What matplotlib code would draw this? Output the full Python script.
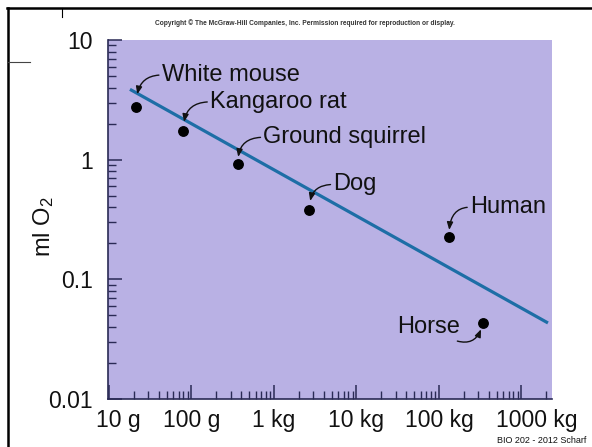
import matplotlib
matplotlib.use("Agg")
import matplotlib.pyplot as plt
from matplotlib.lines import Line2D
from matplotlib.ticker import FixedLocator, LogLocator, NullFormatter, FixedFormatter
from matplotlib.transforms import ScaledTranslation

plt.rcParams['font.family'] = ['Liberation Sans', 'DejaVu Sans']
plt.rcParams['mathtext.fontset'] = 'custom'
plt.rcParams['mathtext.rm'] = 'Liberation Sans'
plt.rcParams['mathtext.default'] = 'rm'

# ---- data (body mass in grams, O2 consumption) ----
animals = ["White mouse", "Kangaroo rat", "Ground squirrel", "Dog", "Human", "Horse"]
mass_g = [21.3, 79.8, 364, 2685, 132400, 345000]
o2_ml = [2.77, 1.74, 0.915, 0.380, 0.2275, 0.0434]

fit_mass_g = [18.0, 2.10e6]
fit_o2_ml = [3.87, 0.0432]

x_tick_values = [10, 100, 1e3, 1e4, 1e5, 1e6]
x_tick_labels = ["10 g", "100 g", "1 kg", "10 kg", "100 kg", "1000 kg"]
y_tick_values = [0.01, 0.1, 1, 10]
y_tick_labels = ["0.01", "0.1", "1", "10"]

# ---- layout / styling (pixels) ----
label_offsets = [(25.7, 25.7), (26.7, 23), (25.6, 21), (24, 19.5), (21, 23.4), (-23.3, -10.6)]
label_ha = ["left", "left", "left", "left", "left", "right"]
arrow_shrink = [9.0, 6.5, 5.3, 6.5, 4.8, 5.0]

W, H = 592, 447
fig = plt.figure(figsize=(W / 100, H / 100), dpi=100)
fig.patch.set_facecolor("white")
ax = fig.add_axes([108 / W, 48 / H, 444 / W, 359 / H])
ax.set_facecolor("#b9b1e4")

ax.set_xscale("log")
ax.set_yscale("log")
ax.set_xlim(9.75, 2.35e6)
ax.set_ylim(0.01, 10)

spine_col = "#2a2a55"
for s in ["top", "right"]:
    ax.spines[s].set_visible(False)
for s in ["left", "bottom"]:
    ax.spines[s].set_color(spine_col)
    ax.spines[s].set_linewidth(1.2)

ax.xaxis.set_major_locator(FixedLocator(x_tick_values))
ax.xaxis.set_major_formatter(FixedFormatter(x_tick_labels))
ax.xaxis.set_minor_locator(LogLocator(base=10, subs=range(2, 10), numticks=20))
ax.xaxis.set_minor_formatter(NullFormatter())
ax.yaxis.set_major_locator(FixedLocator(y_tick_values))
ax.yaxis.set_major_formatter(FixedFormatter(y_tick_labels))
ax.yaxis.set_minor_locator(LogLocator(base=10, subs=range(2, 10), numticks=20))
ax.yaxis.set_minor_formatter(NullFormatter())

ax.tick_params(which="major", direction="in", length=10, width=1.1, color=spine_col,
               labelsize=16.5, labelcolor="#111111")
ax.tick_params(which="minor", direction="in", length=6, width=1.0, color=spine_col)
ax.tick_params(axis="x", which="major", pad=7)
ax.tick_params(axis="y", which="major", pad=11)

# nudge end x tick labels as in reference
xl = ax.get_xticklabels()
xl[0].set_transform(xl[0].get_transform() + ScaledTranslation(9 / 100, 0, fig.dpi_scale_trans))
xl[-1].set_transform(xl[-1].get_transform() + ScaledTranslation(15 / 100, 0, fig.dpi_scale_trans))

# fit line
ax.plot(fit_mass_g, fit_o2_ml, color="#1d6ea6", lw=2.3, solid_capstyle="butt", zorder=2)
# data points
ax.plot(mass_g, o2_ml, "o", color="black", markersize=6.8, zorder=3)

for name, m, v, off, ha, sb in zip(animals, mass_g, o2_ml, label_offsets, label_ha, arrow_shrink):
    if ha == "left":
        cs = "angle3,angleA=0,angleB=90"
        rp = (0, 0.5)
    else:
        cs = "arc3,rad=0.6"
        rp = (0.84, 0.0)
    ax.annotate(name, xy=(m, v), xytext=off, textcoords="offset pixels",
                ha=ha, va="baseline", fontsize=17, color="#111111",
                arrowprops=dict(arrowstyle="-|>,head_length=0.5,head_width=0.2",
                                mutation_scale=9,
                                color="#111111", lw=1.0, shrinkA=0, shrinkB=sb,
                                relpos=rp, connectionstyle=cs),
                zorder=4)

# y label
fig.text(44 / W, 1 - 227 / H, "ml O$_2$", rotation=90, ha="center", va="center",
         fontsize=17, color="#111111")

# header / footer text
fig.text(305 / W, 1 - 22.7 / H,
         "Copyright \u00a9 The McGraw-Hill Companies, Inc. Permission required for reproduction or display.",
         ha="center", va="center", fontsize=4.8, fontweight="bold", color="#333333")
fig.text(542 / W, 1 - 440.7 / H, "BIO 202 - 2012 Scharf", ha="center", va="center",
         fontsize=6.5, color="#111111")

# slide frame lines
fig.add_artist(Line2D([7 / W, 1.0], [1 - 7.5 / H] * 2, transform=fig.transFigure,
                      color="black", lw=1.8))
fig.add_artist(Line2D([8 / W] * 2, [0, 1 - 7.5 / H], transform=fig.transFigure,
                      color="black", lw=1.8))
fig.add_artist(Line2D([62 / W] * 2, [1 - 7.5 / H, 1 - 17 / H], transform=fig.transFigure,
                      color="black", lw=0.8))
fig.add_artist(Line2D([8 / W, 30 / W], [1 - 62 / H] * 2, transform=fig.transFigure,
                      color="#444444", lw=0.8))

fig.savefig("out.png", dpi=100, facecolor="white")
